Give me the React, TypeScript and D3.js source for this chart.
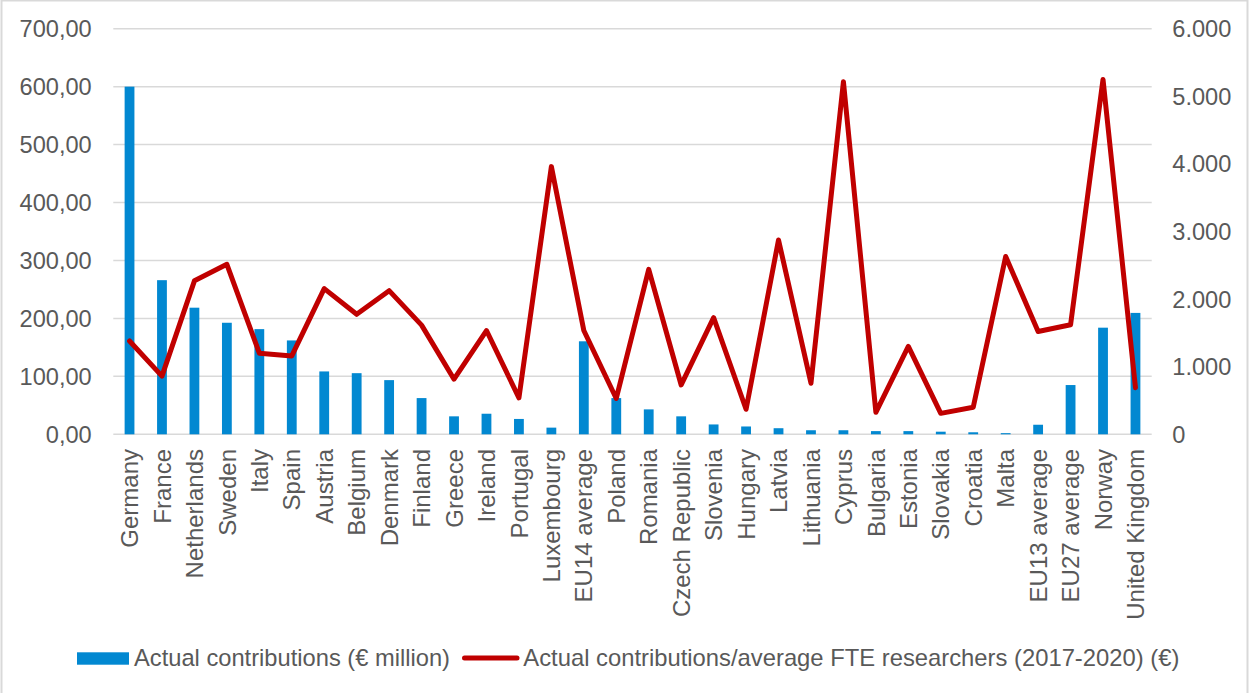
import React from "react";
import * as d3 from "d3";

// Countries and aggregates shown along the x axis
const categories: string[] = [
  "Germany", "France", "Netherlands", "Sweden", "Italy", "Spain", "Austria",
  "Belgium", "Denmark", "Finland", "Greece", "Ireland", "Portugal", "Luxembourg",
  "EU14 average", "Poland", "Romania", "Czech Republic", "Slovenia", "Hungary",
  "Latvia", "Lithuania", "Cyprus", "Bulgaria", "Estonia", "Slovakia", "Croatia",
  "Malta", "EU13 average", "EU27 average", "Norway", "United Kingdom",
];

// Actual contributions (€ million) – bars, left axis
const contributions: number[] = [
  600, 266, 218.5, 192.5, 181.5, 162, 108.5, 105.5, 93.5, 62.5, 31, 35.5, 26.5,
  11.5, 160.5, 62.5, 43, 31, 17, 13.5, 10.5, 7, 7, 5.5, 5.5, 4.5, 3.5, 2,
  16.5, 85, 184, 209.5,
];

// Actual contributions / average FTE researchers 2017-2020 (€) – line, right axis
const perResearcher: number[] = [
  1380, 860, 2270, 2515, 1200, 1160, 2155, 1775, 2125, 1615, 815, 1535, 540,
  3960, 1535, 530, 2440, 730, 1725, 370, 2875, 755, 5215, 325, 1300, 310, 400,
  2630, 1520, 1620, 5250, 690,
];

const leftTicks: number[] = [0, 100, 200, 300, 400, 500, 600, 700];
const rightTicks: number[] = [0, 1000, 2000, 3000, 4000, 5000, 6000];

const legendBars = "Actual contributions (€ million)";
const legendLine = "Actual contributions/average FTE researchers (2017-2020) (€)";

const W = 1250;
const H = 693;
const FONT = "'Liberation Sans', Arial, sans-serif";
const TEXT = "#595959";
const GRID = "#d9d9d9";
const BLUE = "#0288d1";
const RED = "#c00000";

const plot = { left: 113.3, right: 1151.7, top: 28.7, bottom: 434.3 };

const fmtLeft = (v: number) => d3.format(".2f")(v).replace(".", ",");
const fmtRight = (v: number) => d3.format(",.0f")(v).replace(/,/g, ".");

export default function App() {
  const x = d3
    .scaleBand<string>()
    .domain(categories)
    .range([plot.left, plot.right])
    .paddingInner(0.7)
    .paddingOuter(0.35);
  const center = (c: string) => (x(c) as number) + x.bandwidth() / 2;

  const yL = d3.scaleLinear().domain([0, 700]).range([plot.bottom, plot.top]);
  const yR = d3.scaleLinear().domain([0, 6000]).range([plot.bottom, plot.top]);

  const line = d3
    .line<number>()
    .x((_, i) => center(categories[i]))
    .y((d) => yR(d))
    .curve(d3.curveLinear);

  const barW = 9.8;

  return (
    <svg
      width={W}
      height={H}
      style={{ position: "absolute", left: 0, top: 0, background: "#fff" }}
      fontFamily={FONT}
    >
      <rect x={0} y={0} width={W} height={H} fill="#fff" />
      <rect x={1.5} y={0.5} width={1246} height={700} fill="none" stroke={GRID} strokeWidth={2} />

      {/* gridlines */}
      {leftTicks.map((t) => (
        <line
          key={"g" + t}
          x1={plot.left}
          x2={plot.right}
          y1={yL(t)}
          y2={yL(t)}
          stroke={GRID}
          strokeWidth={1.5}
        />
      ))}

      {/* left axis labels */}
      {leftTicks.map((t) => (
        <text
          key={"l" + t}
          x={91.7}
          y={yL(t)}
          dy="0.36em"
          textAnchor="end"
          fontSize={23.6}
          fill={TEXT}
        >
          {fmtLeft(t)}
        </text>
      ))}

      {/* right axis labels */}
      {rightTicks.map((t) => (
        <text
          key={"r" + t}
          x={1172.3}
          y={yR(t)}
          dy="0.36em"
          textAnchor="start"
          fontSize={23.6}
          fill={TEXT}
        >
          {fmtRight(t)}
        </text>
      ))}

      {/* bars */}
      {contributions.map((v, i) => {
        const cx = center(categories[i]);
        return (
          <rect
            key={"b" + i}
            x={cx - barW / 2}
            y={yL(v)}
            width={barW}
            height={yL(0) - yL(v)}
            fill={BLUE}
          />
        );
      })}

      {/* line */}
      <path
        d={line(perResearcher) || ""}
        fill="none"
        stroke={RED}
        strokeWidth={5}
        strokeLinejoin="round"
        strokeLinecap="round"
      />

      {/* category labels */}
      {categories.map((c) => (
        <text
          key={"c" + c}
          transform={`translate(${center(c)},${449}) rotate(-90)`}
          dy="0.36em"
          textAnchor="end"
          fontSize={24}
          fill={TEXT}
        >
          {c}
        </text>
      ))}

      {/* legend */}
      <rect x={77} y={652.3} width={52} height={12.4} fill={BLUE} />
      <text x={134} y={666} fontSize={23.7} fill={TEXT}>
        {legendBars}
      </text>
      <line x1={464.5} x2={517} y1={658} y2={658} stroke={RED} strokeWidth={5} strokeLinecap="round" />
      <text x={523.3} y={666} fontSize={23.8} fill={TEXT}>
        {legendLine}
      </text>
    </svg>
  );
}
